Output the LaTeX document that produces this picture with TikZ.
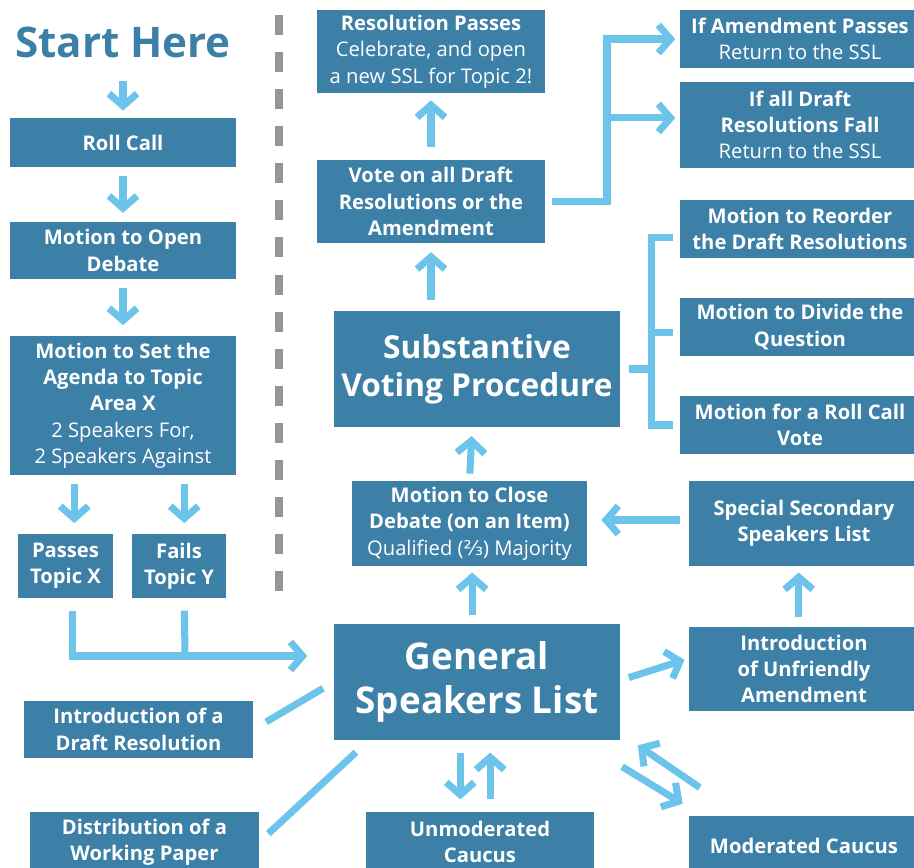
\documentclass[tikz,border=0pt]{standalone}
\usepackage{fontspec}
\setmainfont{Open Sans}
\newfontfamily\fracfont{DejaVu Sans}
\usetikzlibrary{arrows.meta}

\definecolor{boxblue}{RGB}{60,128,167}
\definecolor{arrowblue}{RGB}{108,196,234}
\definecolor{rulegray}{RGB}{150,150,150}

\begin{document}
\begin{tikzpicture}[
    x=0.02cm, y=-0.02cm,
    line/.style    = {draw=arrowblue, line width=4pt},
    arr/.style     = {line, -{Straight Barb[length=7pt, width=16pt]}},
    box/.style     = {fill=boxblue, text=white, align=center, inner sep=2pt,
                      font=\fontsize{11.5}{15}\selectfont\bfseries},
    bigbox/.style  = {box, minimum width=5.72cm, minimum height=2.32cm},
    divider/.style = {draw=rulegray, line width=4.5pt, dash pattern=on 11.4pt off 9.7pt}
]
\useasboundingbox (0,0) rectangle (914,867);
\clip (0,0) rectangle (914,867);

% Left column: opening of the session
\node[text=boxblue, font=\fontsize{24}{28}\selectfont\bfseries] (start) at (123,42) {Start Here};
\node[box, minimum width=4.52cm, minimum height=0.98cm] (roll)   at (123,142.5) {Roll Call};
\node[box, minimum width=4.52cm, minimum height=1.14cm] (open)   at (123,250.5) {Motion to Open\\ Debate};
\node[box, minimum width=4.52cm, minimum height=2.78cm] (agenda) at (123,405.5)
    {Motion to Set the\\ Agenda to Topic\\ Area X\\ \mdseries 2 Speakers For,\\ \mdseries 2 Speakers Against};
\node[box, minimum width=1.9cm, minimum height=1.28cm]  (passes) at (65.5,566) {Passes\\ Topic X};
\node[box, minimum width=1.88cm, minimum height=1.28cm] (fails)  at (179,566)  {Fails\\ Topic Y};

\draw[arr, shorten <=10pt, shorten >=4pt] (start) -- (roll);
\draw[arr, shorten <=5pt, shorten >=5pt] (roll) -- (open);
\draw[arr, shorten <=5pt, shorten >=6pt] (open) -- (agenda);
\draw[arr, shorten <=5pt, shorten >=6pt] ([xshift=5pt]agenda.south -| passes) -- ([xshift=5pt]passes.north);
\draw[arr, shorten <=5pt, shorten >=6pt] ([xshift=3pt]agenda.south -| fails) -- ([xshift=3pt]fails.north);

% Session divider
\draw[divider] (279,15) -- (279,600);

% Centre column: debate and voting
\node[box, minimum width=4.56cm, minimum height=1.66cm] (respass) at (431,51.5)
    {Resolution Passes\\ \mdseries Celebrate, and open\\ \mdseries a new SSL for Topic 2!};
\node[box, minimum width=4.56cm, minimum height=1.66cm] (vote) at (431,201.5)
    {Vote on all Draft\\ Resolutions or the\\ Amendment};
\node[bigbox, font=\fontsize{18}{21.6}\selectfont\bfseries] (svp) at (477,369)
    {Substantive\\ Voting Procedure};
\node[box, minimum width=4.7cm, minimum height=1.7cm] (close) at (469.5,523.5)
    {Motion to Close\\ Debate (on an Item)\\ \mdseries Qualified ({\fracfont ⅔}) Majority};
\node[bigbox, font=\fontsize{21}{25}\selectfont\bfseries] (gsl) at (477,682)
    {General\\ Speakers List};

\draw[arr, shorten <=7pt, shorten >=4pt] (vote) -- (respass);
\draw[arr, shorten <=6pt, shorten >=5pt] (svp.north -| vote) -- (vote.south);
\draw[arr, shorten <=4pt, shorten >=5pt] (close.north) -- ([xshift=1.5pt]svp.south -| close);
\draw[arr, shorten <=5pt, shorten >=3.5pt] ([xshift=1.5pt]gsl.north -| close) -- ([xshift=1.5pt]close.south);

% Topic choice merges into the speakers list
\coordinate (merge) at (185,656);
\draw[arr, shorten <=7pt, shorten >=15pt] ([xshift=4pt]passes.south) |- ([yshift=14.8pt]gsl.west);
\draw[line, shorten <=7pt] ([xshift=3pt]fails.south) -- (merge);

% Right column: outcomes of the vote
\node[box, minimum width=4.8cm, minimum height=1.16cm] (ifam)  at (800,39)
    {If Amendment Passes\\ \mdseries Return to the SSL};
\node[box, minimum width=4.8cm, minimum height=1.72cm] (ifall) at (800,125)
    {If all Draft\\ Resolutions Fall\\ \mdseries Return to the SSL};

\coordinate (vfork) at (607,0);
\draw[arr, shorten <=4pt, shorten >=2.5pt] (vote.east) -| (vfork |- ifam.west) -- (ifam.west);
\draw[arr, shorten >=2.5pt] (vfork |- vote.east) |- ([yshift=4pt]ifall.west);

% Motions during voting procedure
\node[box, minimum width=4.8cm, minimum height=1.16cm] (reorder)  at (800,229)
    {Motion to Reorder\\ the Draft Resolutions};
\node[box, minimum width=4.8cm, minimum height=1.16cm] (divide)   at (800,327)
    {Motion to Divide the\\ Question};
\node[box, minimum width=4.8cm, minimum height=1.16cm] (rollvote) at (800,425)
    {Motion for a Roll Call\\ Vote};

\coordinate (brk) at ([xshift=-16pt]rollvote.west);
\draw[line] ([shift={(-4pt,-5pt)}]reorder.west) -| (brk) -- ([xshift=-4pt]rollvote.west);
\draw[line] ([shift={(-16pt,-3pt)}]divide.west) -- ([shift={(-4pt,-3pt)}]divide.west);
\draw[line, shorten <=5pt] (svp.east) -- (brk |- svp.east);

% Amendment branch
\node[box, minimum width=4.6cm, minimum height=1.7cm]  (special) at (804,523.5)
    {Special Secondary\\ Speakers List};
\node[box, minimum width=4.6cm, minimum height=1.68cm] (unfr)    at (804,669)
    {Introduction\\ of Unfriendly\\ Amendment};

\draw[arr, shorten <=5pt, shorten >=8pt] ([yshift=2pt]special.west) -- ([yshift=2pt]close.east);
\draw[arr, shorten <=5.5pt, shorten >=3.5pt] ([xshift=-3pt]unfr.north) -- ([xshift=-3pt]special.south);
\draw[arr, shorten <=5pt, shorten >=2.5pt] ([yshift=1pt]gsl.east) -- ([yshift=6pt]unfr.west);

% Bottom row: activities on the speakers list
\node[box, minimum width=4.58cm, minimum height=1.14cm] (introdr) at (138.5,729.5)
    {Introduction of a\\ Draft Resolution};
\node[box, minimum width=4.58cm, minimum height=1.2cm]  (distr)   at (144.5,842)
    {Distribution of a\\ Working Paper};
\node[box, minimum width=4.56cm, minimum height=1.2cm]  (unmod)   at (480,842)
    {Unmoderated\\ Caucus};
\node[box, minimum width=4.6cm, minimum height=1.2cm]   (modcau)  at (804,846)
    {Moderated Caucus};

\draw[line, shorten <=8.5pt, shorten >=7pt] (introdr.east) -- (gsl.west);
\draw[line, shorten <=7pt, shorten >=10pt] (distr.east) -- ([xshift=20pt]gsl.south west);
\draw[arr, shorten <=7pt, shorten >=7pt] ([xshift=-9.5pt]gsl.south) -- ([xshift=-9.5pt]gsl.south |- unmod.north);
\draw[arr, shorten <=7pt, shorten >=7pt] ([xshift=7.5pt]gsl.south |- unmod.north) -- ([xshift=7.5pt]gsl.south);
\draw[arr] ([shift={(1pt,-15pt)}]gsl.south east) -- ([shift={(-3.4pt,6.8pt)}]modcau.north west);
\draw[arr] ([shift={(6.3pt,16pt)}]modcau.north west) -- ([shift={(10pt,-2.8pt)}]gsl.south east);

\end{tikzpicture}
\end{document}
